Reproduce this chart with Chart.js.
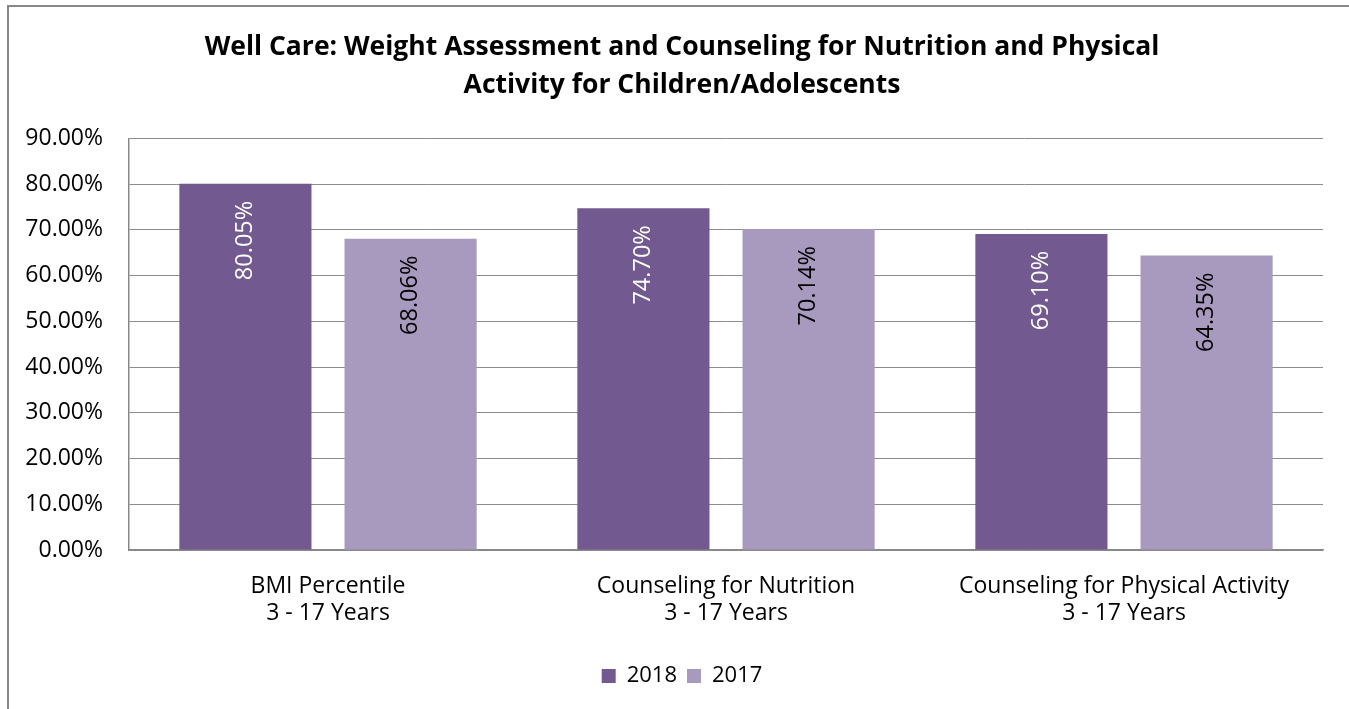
<!DOCTYPE html>
<html>
<head>
<meta charset="utf-8">
<script src="https://cdn.jsdelivr.net/npm/chart.js@4"></script>
<style>
  html, body { margin: 0; padding: 0; background: #fff; overflow: hidden; }
  #frame {
    position: absolute; left: 7px; top: 5px;
    width: 1400px; height: 760px;
    border: 2px solid #878787;
    box-sizing: border-box;
  }
  #wrap { position: absolute; left: 9px; top: 7px; width: 1346px; height: 702px; }
</style>
</head>
<body>
<div id="frame"></div>
<div id="wrap"><canvas id="chart"></canvas></div>
<script>
const categories = [
    ['BMI Percentile', '3 - 17 Years'],
    ['Counseling for Nutrition', '3 - 17 Years'],
    ['Counseling for Physical Activity', '3 - 17 Years']
];
const values2018 = [80.05, 74.70, 69.10];
const values2017 = [68.06, 70.14, 64.35];
const yTicks = [0, 10, 20, 30, 40, 50, 60, 70, 80, 90];

const FONT = "'Open Sans', 'DejaVu Sans', sans-serif";

// Rotated value labels drawn inside the top of each bar
const barLabels = {
    id: 'barLabels',
    afterDatasetsDraw(chart) {
        const ctx = chart.ctx;
        chart.data.datasets.forEach((ds, i) => {
            const meta = chart.getDatasetMeta(i);
            meta.data.forEach((bar, j) => {
                ctx.save();
                ctx.translate(bar.x, bar.y + 17);
                ctx.rotate(-Math.PI / 2);
                ctx.font = '23.5px ' + FONT;
                ctx.fillStyle = i === 0 ? '#ffffff' : '#000000';
                ctx.textAlign = 'right';
                ctx.textBaseline = 'middle';
                ctx.fillText(ds.data[j].toFixed(2) + '%', 0, 0);
                ctx.restore();
            });
        });
    }
};

new Chart(document.getElementById('chart'), {
    type: 'bar',
    data: {
        labels: categories,
        datasets: [
            { label: '2018', data: values2018, backgroundColor: '#725990' },
            { label: '2017', data: values2017, backgroundColor: '#a899bf' }
        ]
    },
    options: {
        responsive: true,
        maintainAspectRatio: false,
        animation: false,
        categoryPercentage: 0.83,
        barPercentage: 0.8,
        layout: { padding: { left: 0, right: 0, top: 0, bottom: 12 } },
        plugins: {
            title: {
                display: true,
                text: ['Well Care: Weight Assessment and Counseling for Nutrition and Physical',
                       'Activity for Children/Adolescents'],
                color: '#000',
                font: { family: FONT, size: 26.5, weight: 'bold', lineHeight: 1.42 },
                padding: { top: 22, bottom: 34 }
            },
            legend: {
                position: 'bottom',
                labels: {
                    color: '#000',
                    font: { family: FONT, size: 22 },
                    boxWidth: 14,
                    boxHeight: 14,
                    padding: 10
                }
            },
            tooltip: { enabled: false }
        },
        scales: {
            x: {
                afterFit: axis => { axis.height = 105; },
                grid: { display: false, drawTicks: false },
                border: { color: '#878787', width: 1.5 },
                ticks: {
                    color: '#000',
                    font: { family: FONT, size: 23, lineHeight: 1.18 },
                    padding: 23,
                    maxRotation: 0
                }
            },
            y: {
                min: 0,
                max: 90,
                afterBuildTicks: axis => { axis.ticks = yTicks.map(v => ({ value: v })); },
                afterFit: axis => { axis.width = 120; },
                grid: { color: '#8c8c8c', drawTicks: false },
                border: { color: '#878787', width: 1.5 },
                ticks: {
                    color: '#000',
                    font: { family: FONT, size: 23 },
                    padding: 26,
                    callback: v => v.toFixed(2) + '%'
                }
            },
            // empty spacer on the right so title and legend centre like the original
            spacer: {
                position: 'right',
                afterFit: axis => { axis.width = 32; },
                grid: { display: false, drawOnChartArea: false },
                border: { display: false },
                ticks: { display: false }
            }
        }
    },
    plugins: [barLabels]
});
</script>
</body>
</html>
